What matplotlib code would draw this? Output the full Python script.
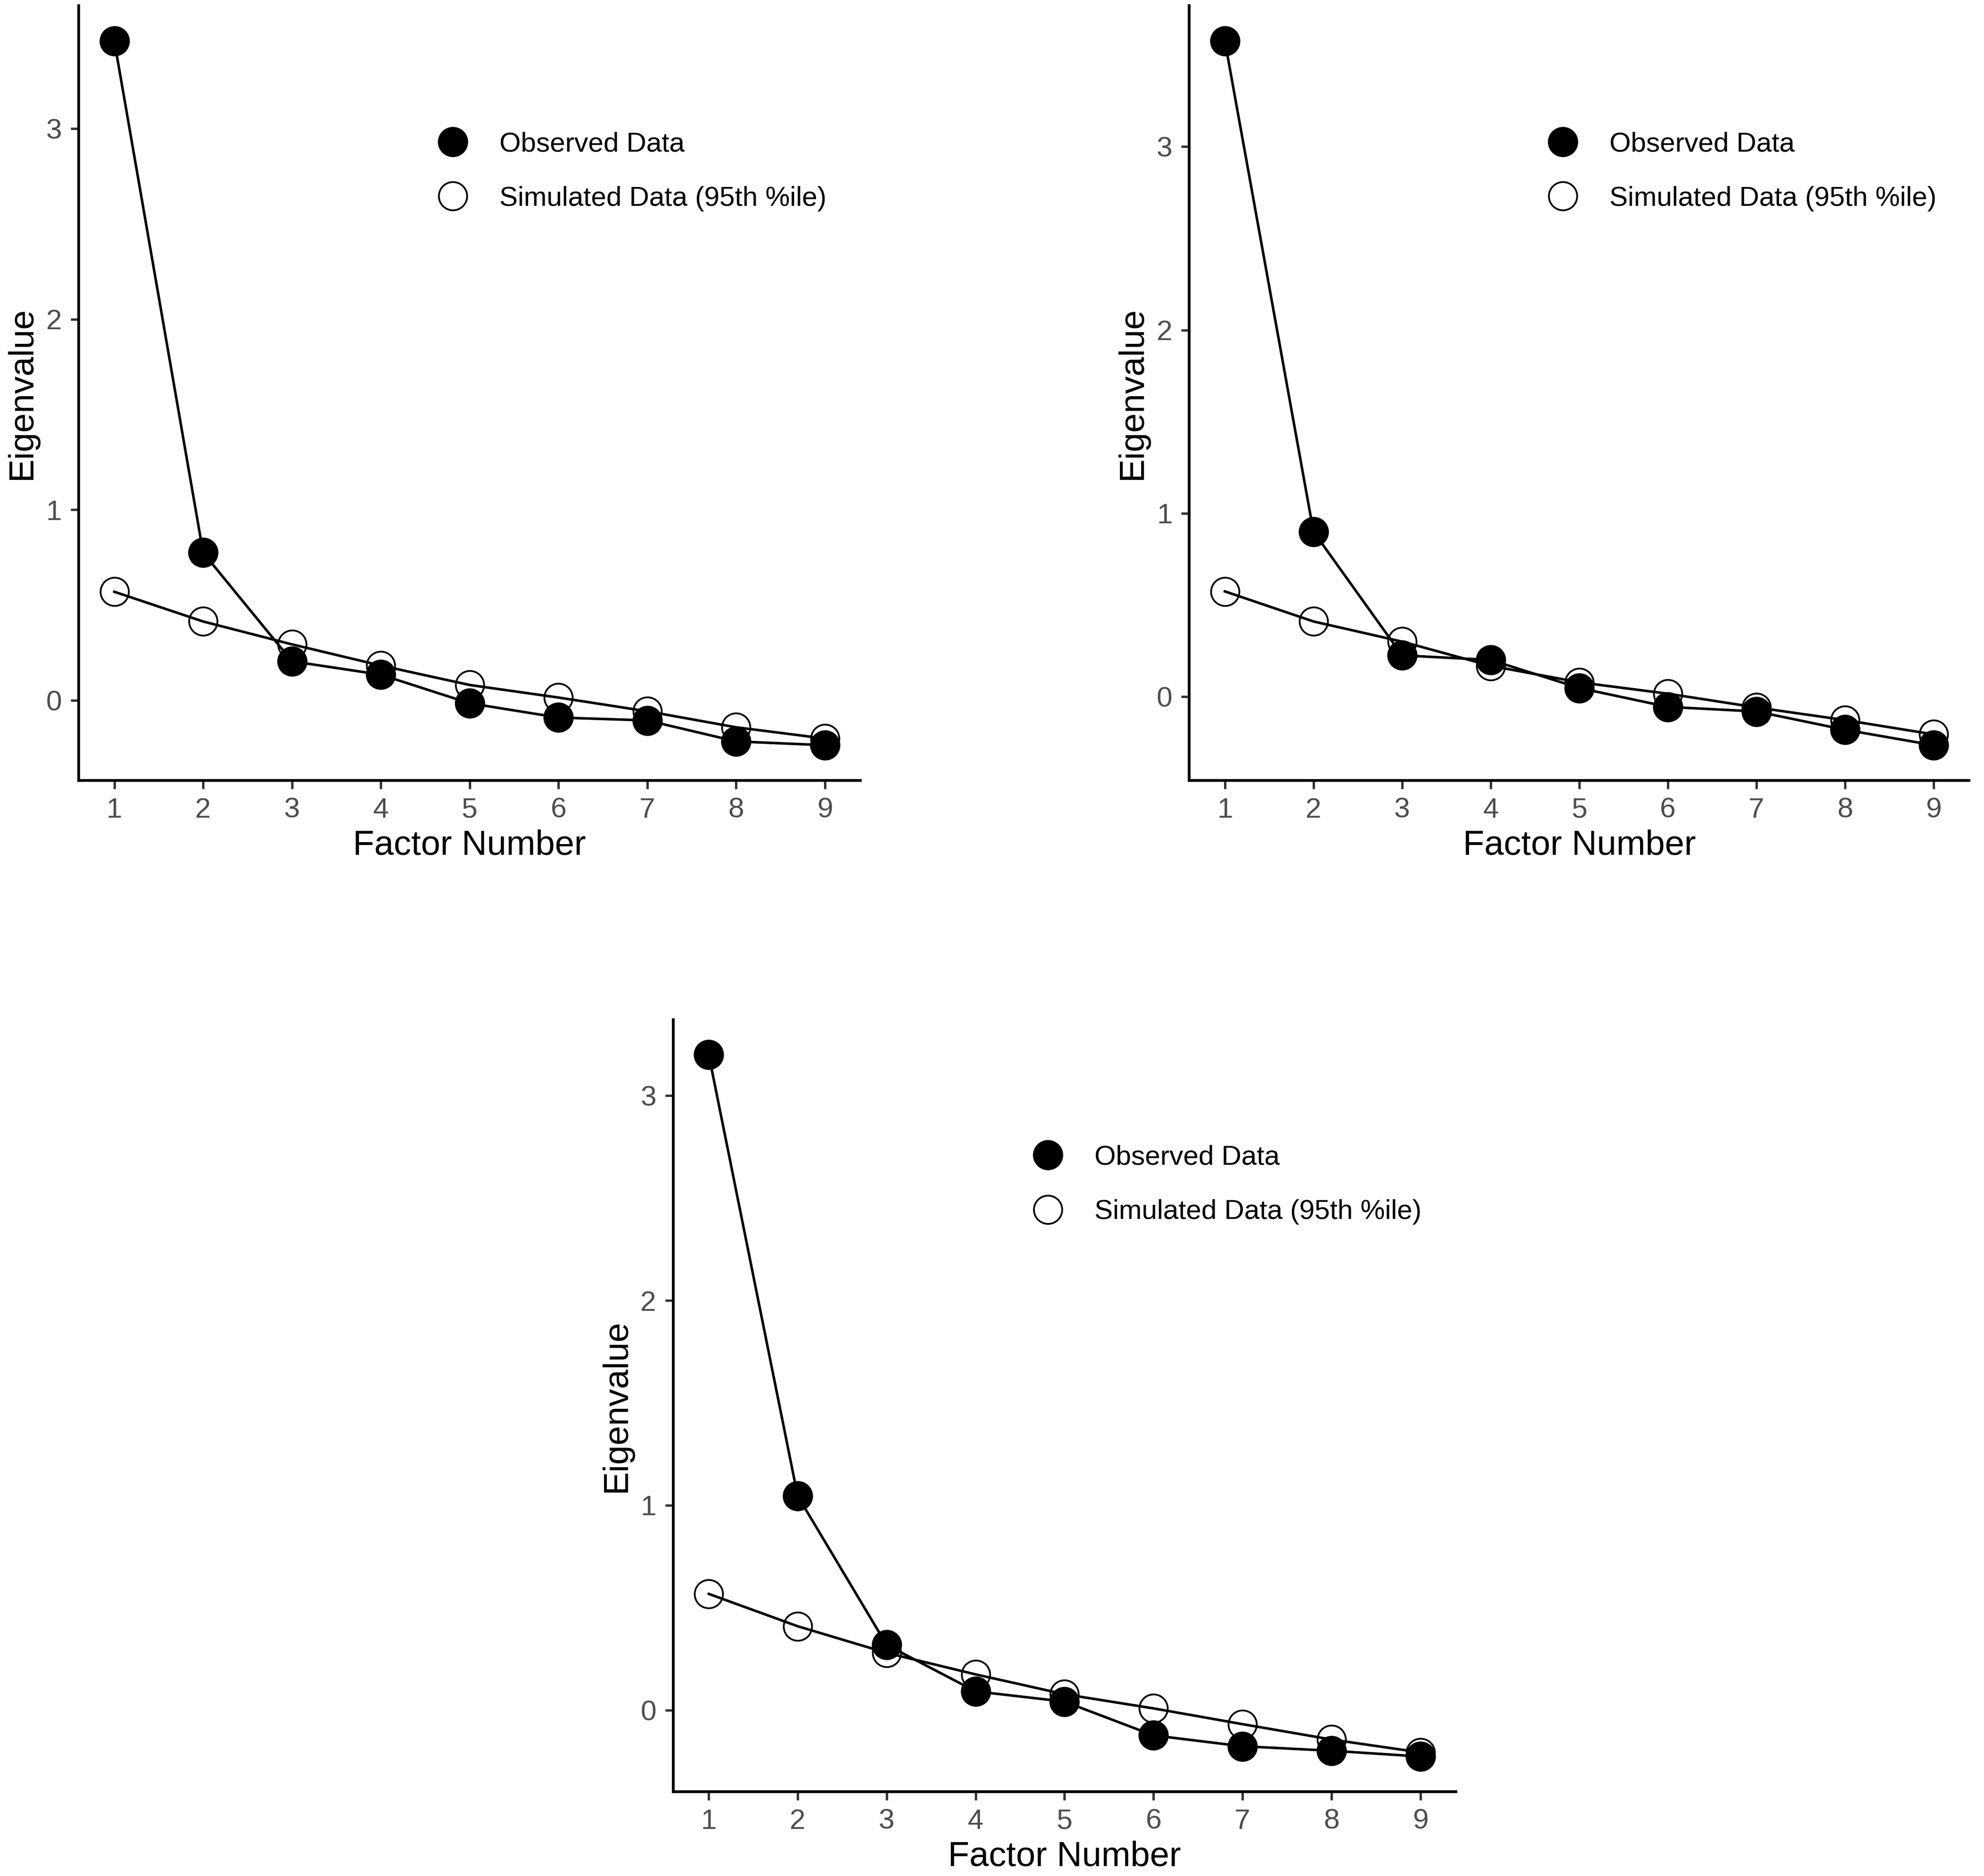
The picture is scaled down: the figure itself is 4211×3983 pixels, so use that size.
import matplotlib
matplotlib.use('Agg')
import matplotlib.pyplot as plt
from matplotlib.lines import Line2D

plt.rcParams['font.family'] = ['Liberation Sans', 'DejaVu Sans']

factors = [1, 2, 3, 4, 5, 6, 7, 8, 9]

# panel 1 (top left)
observed_a = [3.46, 0.775, 0.205, 0.135, -0.015, -0.09, -0.105, -0.215, -0.235]
simulated_a = [0.57, 0.414, 0.294, 0.183, 0.081, 0.015, -0.057, -0.141, -0.20]

# panel 2 (top right)
observed_b = [3.577, 0.90, 0.225, 0.20, 0.047, -0.056, -0.081, -0.181, -0.265]
simulated_b = [0.574, 0.41, 0.30, 0.168, 0.078, 0.016, -0.059, -0.128, -0.206]

# panel 3 (bottom)
observed_c = [3.20, 1.045, 0.318, 0.091, 0.041, -0.124, -0.177, -0.199, -0.227]
simulated_c = [0.567, 0.409, 0.279, 0.174, 0.077, 0.008, -0.069, -0.144, -0.207]

y_ticks = [0, 1, 2, 3]
obs_label = 'Observed Data'
sim_label = 'Simulated Data (95th %ile)'

fig = plt.figure(figsize=(4211 / 300, 3983 / 300), dpi=300)
fig.patch.set_facecolor('white')

axes_pos = [
    [0.0397, 0.584, 0.394, 0.413],
    [0.5995, 0.584, 0.393, 0.413],
    [0.3393, 0.045, 0.3945, 0.4115],
]
panels = [(observed_a, simulated_a), (observed_b, simulated_b), (observed_c, simulated_c)]

for pos, (obs, sim) in zip(axes_pos, panels):
    ax = fig.add_axes(pos)
    ax.plot(factors, obs, color='black', lw=1.3, zorder=2)
    ax.plot(factors, sim, color='black', lw=1.3, zorder=2)
    ax.plot(factors, sim, ls='none', marker='o', ms=14.4, mfc='none',
            mec='black', mew=0.9, zorder=3)
    ax.plot(factors, obs, ls='none', marker='o', ms=14.4, mfc='black',
            mec='black', zorder=4)
    ax.margins(x=0.05, y=0.05)
    ax.set_xticks(factors)
    ax.set_yticks(y_ticks)
    for s in ['top', 'right']:
        ax.spines[s].set_visible(False)
    for s in ['left', 'bottom']:
        ax.spines[s].set_linewidth(1.4)
    ax.tick_params(length=4.2, width=1.2, color='#333333', labelcolor='#4D4D4D',
                   labelsize=14.5, pad=4.4)
    ax.set_xlabel('Factor Number', fontsize=17.8, labelpad=3)
    ax.set_ylabel('Eigenvalue', fontsize=17.8, labelpad=4)

    handles = [
        Line2D([], [], ls='none', marker='o', ms=14.4, mfc='black', mec='black'),
        Line2D([], [], ls='none', marker='o', ms=14.4, mfc='none', mec='black', mew=0.9),
    ]
    ax.legend(handles, [obs_label, sim_label], loc='center left',
              bbox_to_anchor=(0.461, 0.786), frameon=False, fontsize=14,
              handlelength=1.0, handletextpad=1.2, borderpad=0,
              borderaxespad=0, labelspacing=1.05)

fig.savefig('out.png', dpi=300)
